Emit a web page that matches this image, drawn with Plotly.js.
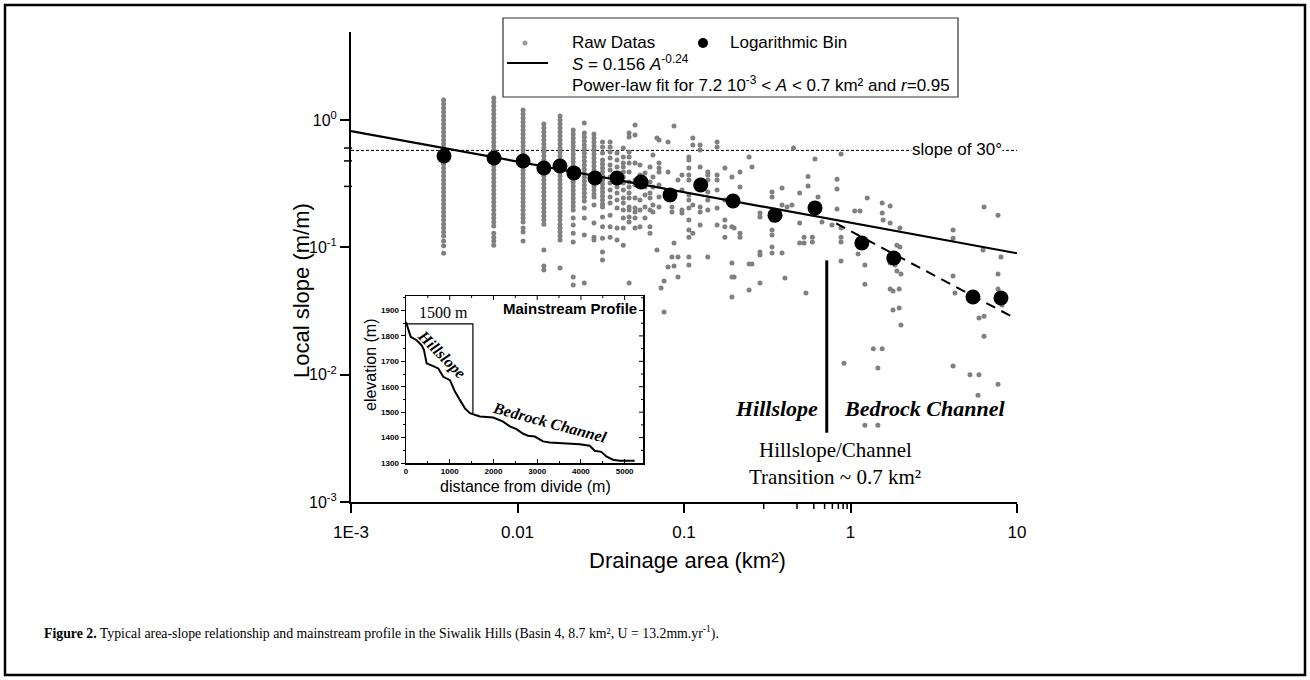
<!DOCTYPE html>
<html><head><meta charset="utf-8">
<script src="https://cdn.plot.ly/plotly-3.0.1.min.js"></script>
<style>html,body{margin:0;padding:0;background:#fff}#chart{width:1310px;height:680px}</style>
</head><body><div id="chart"></div>
<script>
// ---------- DATA ----------
// quantized drainage areas of the dense raw-data columns (km²)
const colA = [0.0036, 0.0072, 0.0108, 0.0144, 0.0180, 0.0216, 0.0252, 0.0288, 0.0324, 0.0360, 0.0396, 0.0432, 0.0468];
const col1S = [1.436,1.336,1.243,1.156,1.075,1.000,0.930,0.865,0.805,0.749,0.696,0.648,0.603,0.561,0.521,0.485,0.451,0.420,0.390,0.363,0.338,0.314,0.292,0.272,0.253,0.235,0.219,0.204,0.189,0.176,0.164,0.152,0.142,0.132,0.123,0.112,0.103,0.090];
const col2S = [1.49,1.385,1.288,1.198,1.115,1.037,0.964,0.897,0.834,0.776,0.722,0.672,0.625,0.581,0.541,0.503,0.468,0.435,0.405,0.376,0.350,0.326,0.303,0.282,0.262,0.244,0.227,0.211,0.196,0.182,0.170,0.158,0.147,0.129,0.120,0.112,0.104];
const col3S = [1.198,1.115,1.037,0.964,0.897,0.834,0.776,0.722,0.672,0.625,0.581,0.541,0.503,0.468,0.435,0.405,0.376,0.350,0.326,0.303,0.282,0.262,0.244,0.227,0.211,0.196,0.182,0.170,0.158,0.142,0.132,0.112];
const col4S = [0.930,0.865,0.805,0.749,0.696,0.648,0.603,0.561,0.521,0.485,0.451,0.420,0.390,0.363,0.338,0.314,0.292,0.272,0.253,0.235,0.219,0.204,0.189,0.176,0.164,0.152,0.0953,0.0713,0.0663];
const col5S = [1.075,1.000,0.930,0.865,0.805,0.749,0.696,0.648,0.603,0.561,0.521,0.485,0.451,0.420,0.390,0.363,0.338,0.314,0.292,0.272,0.253,0.235,0.219,0.204,0.189,0.176,0.164,0.152,0.142,0.132,0.123,0.114,0.0688];
const col6S = [0.834,0.776,0.722,0.672,0.625,0.581,0.541,0.503,0.468,0.435,0.405,0.376,0.350,0.326,0.303,0.282,0.262,0.244,0.227,0.211,0.196,0.170,0.150,0.129,0.110,0.0585,0.0505];
const col7S = [0.947,0.790,0.735,0.684,0.636,0.592,0.551,0.512,0.476,0.443,0.412,0.384,0.357,0.332,0.309,0.287,0.267,0.249,0.231,0.204,0.170,0.125,0.0524];
const col8S = [0.776,0.722,0.672,0.625,0.581,0.541,0.503,0.468,0.435,0.405,0.376,0.350,0.326,0.303,0.282,0.262,0.249,0.215,0.155,0.120,0.114];
const col9S = [0.672,0.613,0.551,0.485,0.451,0.420,0.390,0.363,0.338,0.314,0.292,0.272,0.253,0.235,0.219,0.207,0.173,0.145,0.118,0.0919,0.0795];
const col10S = [0.672,0.613,0.561,0.503,0.443,0.405,0.357,0.320,0.282,0.249,0.223,0.179,0.145,0.120];
const col11S = [0.551,0.485,0.427,0.338,0.298,0.267,0.235,0.204,0.142,0.114];
const col12S = [0.603,0.512,0.459,0.427,0.390,0.357,0.320,0.282,0.244,0.223,0.196,0.170,0.142,0.104];
const col13S = [0.790,0.735,0.561,0.512,0.459,0.390,0.326,0.298,0.267,0.244,0.207,0.196,0.173,0.158,0.0524];

// scattered raw data: area of each group and the slopes found at that area
const scatA = [0.0508,0.0544,0.0583,0.0625,0.0651,0.0688,0.0708,0.0728,0.0759,0.0802,
  0.0847,0.0871,0.0920,0.0972,0.107,0.113,0.125,0.139,0.158,0.176,
  0.194,0.200,0.217,0.246,0.256,0.286,0.338,0.388,0.404,0.416,
  0.445,0.455,0.495,0.526,0.540,0.556,0.590,0.612,0.638,0.674,
  0.774,0.830,0.877,0.914,1.06,1.11,1.14,1.22,1.26,1.37,
  1.46,1.55,1.57,1.73,1.80,1.85,1.90,1.96,1.98,2.01,
  4.13,4.24,5.22,5.83,5.91,6.25,6.34,7.69,8.01,8.12];
const scatS = [
  [0.913,0.762,0.459,0.338,0.309,0.244,0.204,0.189,0.170,0.142],
  [0.443,0.370,0.235,0.196,0.145],
  [0.384,0.298,0.258,0.207,0.170],
  [0.427,0.326,0.267,0.244,0.196,0.145,0.129],
  [0.531,0.357,0.298,0.215,0.189],
  [0.722,0.0953],
  [0.696,0.459,0.420,0.390,0.309,0.249,0.207],
  [0.0479],
  [0.0310,0.0543],
  [0.672,0.390,0.258,0.0700],
  [0.272,0.207,0.189,0.0839],
  [0.895,0.108,0.0713],
  [0.338,0.0839,0.0585],
  [0.370,0.282,0.196,0.186],
  [0.513,0.485,0.420,0.370,0.338,0.258,0.235,0.204,0.164,0.137,0.120,0.0839,0.0726],
  [0.722,0.636,0.215,0.129],
  [0.636,0.581,0.427,0.207,0.189,0.150],
  [0.390,0.370,0.338,0.272,0.235,0.196,0.0839],
  [0.672,0.613,0.370,0.338,0.282,0.204,0.150],
  [0.420,0.235,0.164,0.145,0.120],
  [0.357,0.145,0.0753,0.0585,0.0407],
  [0.142,0.0585],
  [0.390,0.298,0.129,0.120],
  [0.513,0.0739,0.0462],
  [0.427,0.0739],
  [0.186,0.173,0.0919,0.0870,0.0524],
  [0.272,0.249,0.164,0.137,0.125,0.1005,0.0903],
  [0.292,0.215,0.0903],
  [0.0574],
  [0.207],
  [0.215],
  [0.603],
  [0.267,0.155,0.108],
  [0.120,0.108],
  [0.0437],
  [0.360,0.303],
  [0.120,0.110],
  [0.494],
  [0.249],
  [0.158],
  [0.150],
  [0.342,0.287,0.200],
  [0.540,0.142,0.120,0.110,0.0781],
  [0.0123],
  [0.193],
  [0.0887],
  [0.193],
  [0.0726,0.0514,0.0040],
  [0.244],
  [0.0160],
  [0.0113,0.0040],
  [0.0160,0.223,0.186],
  [0.164],
  [0.211,0.155,0.0753,0.0470],
  [0.0453,0.0322],
  [0.0726],
  [0.0651,0.104],
  [0.0334,0.0470],
  [0.142,0.1005],
  [0.0617,0.0245],
  [0.137,0.118,0.0595,0.0117],
  [0.0437],
  [0.0100],
  [0.0069],
  [0.0100,0.0278],
  [0.0953],
  [0.207,0.0288,0.0200],
  [0.179,0.0617,0.0470,0.0084],
  [0.0839],
  [0.0352]
];

// logarithmic bins
const binA = [0.00362,0.00723,0.0108,0.0144,0.0180,0.0218,0.0292,0.0396,0.0552,0.0824,0.126,0.197,0.352,0.612,1.17,1.82,5.44,8.01];
const binS = [0.521,0.503,0.476,0.420,0.435,0.384,0.350,0.350,0.326,0.258,0.309,0.231,0.179,0.204,0.108,0.0824,0.0407,0.0400];

// power-law fit S = 0.156 A^-0.24 (end points) and channel trend (dashed)
const fitA = [0.001, 10];
const fitS = [0.819, 0.0898];
const chanA = [0.82, 9.6];
const chanS = [0.154, 0.028];
// slope of 30 degrees, transition line
const slope30A = [0.001, 10];
const slope30S = [0.577, 0.577];
const transA = [0.72, 0.72];
const transS = [0.079, 0.0035];

// inset: mainstream profile
const profX = [0,53,107,244,358,411,472,624,738,852,1005,1119,1233,1347,1461,1613,1689,1994,2222,2374,2527,2679,2793,2945,3135,3288,3668,3973,4201,4315,4467,4581,4734,4886,5228];
const profZ = [1855,1822,1796,1783,1763,1744,1692,1681,1672,1639,1626,1581,1548,1515,1496,1487,1483,1479,1463,1444,1433,1415,1407,1404,1385,1381,1378,1374,1368,1348,1344,1326,1313,1309,1309];
const bracketX = [0, 1530, 1530];
const bracketZ = [1847, 1847, 1497];

// tick labels
const xTickVals = [0.001, 0.01, 0.1, 1, 10];
const xTickText = ['1E-3', '0.01', '0.1', '1', '10'];
const yTickVals = [0.001, 0.01, 0.1, 1];
const yTickText = ['10<sup>-3</sup>', '10<sup>-2</sup>', '10<sup>-1</sup>', '10<sup>0</sup>'];

// ---------- BUILD ----------
const cols = [col1S,col2S,col3S,col4S,col5S,col6S,col7S,col8S,col9S,col10S,col11S,col12S,col13S];
const rawX = [], rawY = [];
cols.forEach((c, i) => c.forEach(s => { rawX.push(colA[i]); rawY.push(s); }));
scatS.forEach((g, i) => g.forEach(s => { rawX.push(scatA[i]); rawY.push(s); }));

const L = 351, R = 1017, T = 32, B = 502;
const px = x => (x - L) / (R - L);
const py = y => (B - y) / (B - T);
const SANS = 'Liberation Sans, Arial, sans-serif';
const SERIF = 'Liberation Serif, Times New Roman, serif';

// insets geometry (pixels)
const IL = 406, IR = 643, IT = 296, IB = 463;
const insetXRange = [0, 5420], insetYRange = [1300, 1957];

// tick marks that Plotly cannot draw itself: log minor ticks and inward mirror ticks of the inset
const tickShapes = [];
for (let k = -3; k <= 0; k++) for (let m = 2; m <= 9; m++) {
  const v = Math.log10(m) + k;
  tickShapes.push({type: 'line', xref: 'x', yref: 'paper', x0: v, x1: v, ysizemode: 'pixel', yanchor: 0, y0: -1, y1: -7, line: {color: '#000', width: 1.5}});
  if (v < 0.69) tickShapes.push({type: 'line', xref: 'paper', yref: 'y', y0: v, y1: v, xsizemode: 'pixel', xanchor: 0, x0: 1, x1: -7, line: {color: '#000', width: 1.5}});
}
for (let d = 500; d < 5420; d += 500) {
  const len = d % 1000 === 0 ? 4 : 2;
  tickShapes.push({type: 'line', xref: 'x2', yref: 'paper', x0: d, x1: d, ysizemode: 'pixel', yanchor: py(IT), y0: 0, y1: -len, line: {color: '#000', width: 1}});
}
for (let z = 1350; z < 1957; z += 50) {
  const len = z % 100 === 0 ? 4 : 2;
  tickShapes.push({type: 'line', xref: 'paper', yref: 'y2', y0: z, y1: z, xsizemode: 'pixel', xanchor: px(IR), x0: 0, x1: -len, line: {color: '#000', width: 1}});
}

const traces = [
  {x: slope30A, y: slope30S, mode: 'lines', line: {color: '#000', width: 1, dash: '3px,2px'}, hoverinfo: 'skip'},
  {x: rawX, y: rawY, mode: 'markers', marker: {color: '#808080', size: 5}, hoverinfo: 'skip'},
  {x: fitA, y: fitS, mode: 'lines', line: {color: '#000', width: 2.2}, hoverinfo: 'skip'},
  {x: chanA, y: chanS, mode: 'lines', line: {color: '#000', width: 2, dash: '10px,7px'}, hoverinfo: 'skip'},
  {x: transA, y: transS, mode: 'lines', line: {color: '#000', width: 3}, hoverinfo: 'skip'},
  {x: binA, y: binS, mode: 'markers', marker: {color: '#000', size: 15}, hoverinfo: 'skip'},
  {x: profX, y: profZ, xaxis: 'x2', yaxis: 'y2', mode: 'lines', line: {color: '#000', width: 2}, hoverinfo: 'skip'},
  {x: bracketX, y: bracketZ, xaxis: 'x2', yaxis: 'y2', mode: 'lines', line: {color: '#000', width: 1.2}, hoverinfo: 'skip'}
];

const insetTickFont = {family: SANS, size: 8, color: '#000', weight: 'bold'};

const layout = {
  width: 1310, height: 680,
  margin: {l: L, r: 1310 - R, t: T, b: 680 - B, pad: 0},
  paper_bgcolor: '#fff', plot_bgcolor: 'rgba(0,0,0,0)',
  showlegend: false,
  font: {family: SANS, color: '#000'},
  xaxis: {
    type: 'log', range: [-3, 1], domain: [0, 1], anchor: 'y',
    showline: true, linecolor: '#000', linewidth: 2, showgrid: false, zeroline: false,
    ticks: 'outside', ticklen: 9, tickwidth: 2, tickcolor: '#000',
    tickmode: 'array', tickvals: xTickVals, ticktext: xTickText, ticklabelstandoff: 5,
    tickfont: {family: SANS, size: 17, color: '#000'}
  },
  yaxis: {
    type: 'log', range: [-3, 0.691], domain: [0, 1], anchor: 'x',
    showline: true, linecolor: '#000', linewidth: 2, showgrid: false, zeroline: false,
    ticks: 'outside', ticklen: 9, tickwidth: 2, tickcolor: '#000',
    tickmode: 'array', tickvals: yTickVals, ticktext: yTickText,
    tickfont: {family: SANS, size: 16, color: '#000'}
  },
  xaxis2: {
    domain: [px(IL), px(IR)], anchor: 'y2', range: insetXRange,
    showline: true, linecolor: '#000', linewidth: 1.5, mirror: true, showgrid: false, zeroline: false,
    ticks: 'inside', ticklen: 4, tickwidth: 1, tickcolor: '#000', tickmode: 'linear', tick0: 0, dtick: 1000,
    tickfont: insetTickFont,
    minor: {dtick: 500, ticks: 'inside', ticklen: 2, tickwidth: 1, tickcolor: '#000'}
  },
  yaxis2: {
    domain: [py(IB), py(IT)], anchor: 'x2', range: insetYRange,
    showline: true, linecolor: '#000', linewidth: 1.5, mirror: true, showgrid: false, zeroline: false,
    ticks: 'outside', ticklen: 4, tickwidth: 1, tickcolor: '#000', tickmode: 'linear', tick0: 1300, dtick: 100,
    tickfont: insetTickFont,
    minor: {dtick: 50, ticks: 'outside', ticklen: 2, tickwidth: 1, tickcolor: '#000'}
  },
  shapes: [
    // figure frame
    {type: 'rect', xref: 'paper', yref: 'paper', x0: px(5), x1: px(1305), y0: py(675), y1: py(5), line: {color: '#000', width: 2.5}, layer: 'below'},
    // legend box
    {type: 'rect', xref: 'paper', yref: 'paper', x0: px(503), x1: px(958), y0: py(97), y1: py(18), line: {color: '#333', width: 1.2}, fillcolor: '#fff'},
    {type: 'circle', xref: 'paper', yref: 'paper', xsizemode: 'pixel', ysizemode: 'pixel', xanchor: px(525), yanchor: py(43), x0: -2.5, x1: 2.5, y0: -2.5, y1: 2.5, fillcolor: '#999', line: {width: 0}},
    {type: 'circle', xref: 'paper', yref: 'paper', xsizemode: 'pixel', ysizemode: 'pixel', xanchor: px(703), yanchor: py(43), x0: -5, x1: 5, y0: -5, y1: 5, fillcolor: '#000', line: {width: 0}},
    {type: 'line', xref: 'paper', yref: 'paper', x0: px(507), x1: px(548), y0: py(63), y1: py(63), line: {color: '#000', width: 2}}
  ].concat(tickShapes),
  annotations: [
    {xref: 'paper', yref: 'paper', x: px(570), y: py(43), xanchor: 'left', yanchor: 'middle', showarrow: false, text: 'Raw Datas', font: {family: SANS, size: 17}},
    {xref: 'paper', yref: 'paper', x: px(728), y: py(43), xanchor: 'left', yanchor: 'middle', showarrow: false, text: 'Logarithmic Bin', font: {family: SANS, size: 17}},
    {xref: 'paper', yref: 'paper', x: px(570), y: py(63), xanchor: 'left', yanchor: 'middle', showarrow: false, text: '<i>S</i> = 0.156 <i>A</i><sup>-0.24</sup>', font: {family: SANS, size: 17}},
    {xref: 'paper', yref: 'paper', x: px(570), y: py(84), xanchor: 'left', yanchor: 'middle', showarrow: false, text: 'Power-law fit for 7.2 10<sup>-3</sup> &lt; <i>A</i> &lt; 0.7 km² and <i>r</i>=0.95', font: {family: SANS, size: 17}},
    {xref: 'paper', yref: 'paper', x: px(911), y: py(149), xanchor: 'left', yanchor: 'middle', showarrow: false, text: 'slope of 30°', bgcolor: '#fff', borderpad: 0, font: {family: SANS, size: 17}},
    {xref: 'paper', yref: 'paper', x: px(820), y: py(408), xanchor: 'right', yanchor: 'middle', showarrow: false, text: '<b><i>Hillslope</i></b>', font: {family: SERIF, size: 22}},
    {xref: 'paper', yref: 'paper', x: px(842), y: py(408), xanchor: 'left', yanchor: 'middle', showarrow: false, text: '<b><i>Bedrock Channel</i></b>', font: {family: SERIF, size: 22}},
    {xref: 'paper', yref: 'paper', x: px(835), y: py(450), xanchor: 'center', yanchor: 'middle', showarrow: false, text: 'Hillslope/Channel', font: {family: SERIF, size: 21}},
    {xref: 'paper', yref: 'paper', x: px(835), y: py(477), xanchor: 'center', yanchor: 'middle', showarrow: false, text: 'Transition ~ 0.7 km²', font: {family: SERIF, size: 21}},
    // axis titles
    {xref: 'paper', yref: 'paper', x: px(301), y: py(291), xanchor: 'center', yanchor: 'middle', showarrow: false, textangle: -90, text: 'Local slope (m/m)', font: {family: SANS, size: 22}},
    {xref: 'paper', yref: 'paper', x: px(687), y: py(560), xanchor: 'center', yanchor: 'middle', showarrow: false, text: 'Drainage area (km²)', font: {family: SANS, size: 22}},
    // inset texts
    {xref: 'paper', yref: 'paper', x: px(370), y: py(365), xanchor: 'center', yanchor: 'middle', showarrow: false, textangle: -90, text: 'elevation (m)', font: {family: SANS, size: 16}},
    {xref: 'paper', yref: 'paper', x: px(525), y: py(486), xanchor: 'center', yanchor: 'middle', showarrow: false, text: 'distance from divide (m)', font: {family: SANS, size: 16}},
    {xref: 'paper', yref: 'paper', x: px(639), y: py(308), xanchor: 'right', yanchor: 'middle', showarrow: false, text: '<b>Mainstream Profile</b>', font: {family: SANS, size: 15}},
    {xref: 'x2', yref: 'y2', x: 868, y: 1892, xanchor: 'center', yanchor: 'middle', showarrow: false, text: '1500 m', font: {family: SERIF, size: 16}},
    {xref: 'x2', yref: 'y2', x: 822, y: 1725, xanchor: 'center', yanchor: 'middle', showarrow: false, textangle: 45, text: '<b><i>Hillslope</i></b>', font: {family: SERIF, size: 16}},
    {xref: 'x2', yref: 'y2', x: 3288, y: 1460, xanchor: 'center', yanchor: 'middle', showarrow: false, textangle: 15, text: '<b><i>Bedrock Channel</i></b>', font: {family: SERIF, size: 16}},
    // caption
    {xref: 'paper', yref: 'paper', x: px(42), y: py(632), xanchor: 'left', yanchor: 'middle', showarrow: false, text: '<b>Figure 2.</b> Typical area-slope relationship and mainstream profile in the Siwalik Hills (Basin 4, 8.7 km², U = 13.2mm.yr<sup>-1</sup>).', font: {family: SERIF, size: 13.8}}
  ]
};

Plotly.newPlot('chart', traces, layout, {displayModeBar: false, staticPlot: true});
</script>
</body></html>
